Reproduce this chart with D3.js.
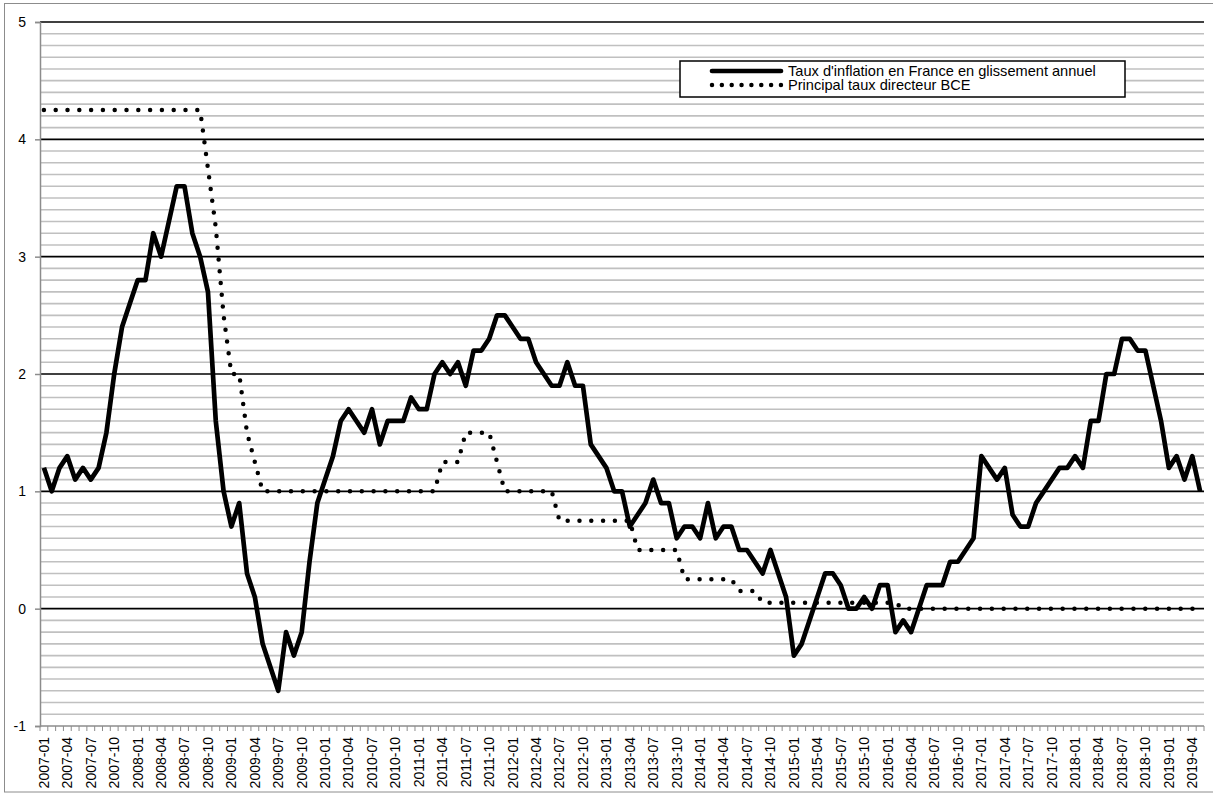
<!DOCTYPE html>
<html>
<head>
<meta charset="utf-8">
<script src="https://cdn.jsdelivr.net/npm/d3@7/dist/d3.min.js"></script>
<style>
  body { margin: 0; background: #fff; }
  svg text { font-family: "Liberation Sans", Arial, sans-serif; fill: #000; }
</style>
</head>
<body>
<svg id="chart" width="1213" height="794"></svg>
<script>
// months 2007-01 .. 2019-05
var months = d3.timeMonth.range(new Date(2007, 0, 1), new Date(2019, 5, 1)).map(d3.timeFormat("%Y-%m"));

// Taux d'inflation en France en glissement annuel (%)
var inflation = [
    1.2, 1.0, 1.2, 1.3, 1.1, 1.2, 1.1, 1.2, 1.5, 2.0, 2.4, 2.6,        // 2007
    2.8, 2.8, 3.2, 3.0, 3.3, 3.6, 3.6, 3.2, 3.0, 2.7, 1.6, 1.0,        // 2008
    0.7, 0.9, 0.3, 0.1, -0.3, -0.5, -0.7, -0.2, -0.4, -0.2, 0.4, 0.9,  // 2009
    1.1, 1.3, 1.6, 1.7, 1.6, 1.5, 1.7, 1.4, 1.6, 1.6, 1.6, 1.8,        // 2010
    1.7, 1.7, 2.0, 2.1, 2.0, 2.1, 1.9, 2.2, 2.2, 2.3, 2.5, 2.5,        // 2011
    2.4, 2.3, 2.3, 2.1, 2.0, 1.9, 1.9, 2.1, 1.9, 1.9, 1.4, 1.3,        // 2012
    1.2, 1.0, 1.0, 0.7, 0.8, 0.9, 1.1, 0.9, 0.9, 0.6, 0.7, 0.7,        // 2013
    0.6, 0.9, 0.6, 0.7, 0.7, 0.5, 0.5, 0.4, 0.3, 0.5, 0.3, 0.1,        // 2014
    -0.4, -0.3, -0.1, 0.1, 0.3, 0.3, 0.2, 0.0, 0.0, 0.1, 0.0, 0.2,     // 2015
    0.2, -0.2, -0.1, -0.2, 0.0, 0.2, 0.2, 0.2, 0.4, 0.4, 0.5, 0.6,     // 2016
    1.3, 1.2, 1.1, 1.2, 0.8, 0.7, 0.7, 0.9, 1.0, 1.1, 1.2, 1.2,        // 2017
    1.3, 1.2, 1.6, 1.6, 2.0, 2.0, 2.3, 2.3, 2.2, 2.2, 1.9, 1.6,        // 2018
    1.2, 1.3, 1.1, 1.3, 1.0                                            // 2019
];

// Principal taux directeur BCE (%)
var bce = [
    4.25, 4.25, 4.25, 4.25, 4.25, 4.25, 4.25, 4.25, 4.25, 4.25, 4.25, 4.25,  // 2007
    4.25, 4.25, 4.25, 4.25, 4.25, 4.25, 4.25, 4.25, 4.25, 3.75, 3.25, 2.5,   // 2008
    2.0, 2.0, 1.5, 1.25, 1.0, 1.0, 1.0, 1.0, 1.0, 1.0, 1.0, 1.0,            // 2009
    1.0, 1.0, 1.0, 1.0, 1.0, 1.0, 1.0, 1.0, 1.0, 1.0, 1.0, 1.0,             // 2010
    1.0, 1.0, 1.0, 1.25, 1.25, 1.25, 1.5, 1.5, 1.5, 1.5, 1.25, 1.0,         // 2011
    1.0, 1.0, 1.0, 1.0, 1.0, 1.0, 0.75, 0.75, 0.75, 0.75, 0.75, 0.75,      // 2012
    0.75, 0.75, 0.75, 0.75, 0.5, 0.5, 0.5, 0.5, 0.5, 0.5, 0.25, 0.25,      // 2013
    0.25, 0.25, 0.25, 0.25, 0.25, 0.15, 0.15, 0.15, 0.05, 0.05, 0.05, 0.05, // 2014
    0.05, 0.05, 0.05, 0.05, 0.05, 0.05, 0.05, 0.05, 0.05, 0.05, 0.05, 0.05, // 2015
    0.05, 0.05, 0, 0, 0, 0, 0, 0, 0, 0, 0, 0,                              // 2016
    0, 0, 0, 0, 0, 0, 0, 0, 0, 0, 0, 0,                                    // 2017
    0, 0, 0, 0, 0, 0, 0, 0, 0, 0, 0, 0,                                    // 2018
    0, 0, 0, 0, 0                                                          // 2019
];

var yTicks = [-1, 0, 1, 2, 3, 4, 5];
var seriesNames = ["Taux d'inflation en France en glissement annuel", "Principal taux directeur BCE"];

var svg = d3.select("#chart");

var plotLeft = 40, plotRight = 1204, plotTop = 22, plotBottom = 726;

// chart area border
svg.append("rect")
    .attr("x", 4.5).attr("y", 3.5)
    .attr("width", 1230).attr("height", 788.5)
    .attr("fill", "white")
    .attr("stroke", "#8c8c8c")
    .attr("stroke-width", 1);

var x = d3.scaleBand()
    .domain(months)
    .range([plotLeft, plotRight])
    .padding(0);

var y = d3.scaleLinear()
    .domain([-1, 5])
    .range([plotBottom, plotTop]);

var cx = d => x(d) + x.bandwidth() / 2;

// minor gridlines every 0.1
var minor = d3.range(-9, 50).map(v => v / 10).filter(v => Math.abs(v - Math.round(v)) > 1e-6);
svg.append("g").selectAll("line")
    .data(minor)
    .join("line")
    .attr("x1", plotLeft).attr("x2", plotRight)
    .attr("y1", d => y(d)).attr("y2", d => y(d))
    .attr("stroke", "#c0c0c0")
    .attr("stroke-width", 1.6);

// major gridlines
svg.append("g").selectAll("line")
    .data(yTicks.filter(v => v > -1))
    .join("line")
    .attr("x1", plotLeft).attr("x2", plotRight)
    .attr("y1", d => y(d)).attr("y2", d => y(d))
    .attr("stroke", "#000")
    .attr("stroke-width", 1.6);

// y axis
var yAxis = svg.append("g")
    .attr("transform", `translate(${plotLeft},0)`)
    .call(d3.axisLeft(y).tickValues(yTicks).tickSize(5).tickFormat(d => String(d)));
yAxis.select(".domain").attr("stroke", "#8c8c8c").attr("stroke-width", 1.5);
yAxis.selectAll(".tick line").attr("stroke", "#8c8c8c").attr("stroke-width", 1.5);
yAxis.selectAll(".tick text")
    .attr("x", -14)
    .style("font-size", "14px")
    .style("font-family", "Liberation Sans, Arial, sans-serif");

// x axis: tick at every category boundary
var xAxis = svg.append("g")
    .attr("transform", `translate(0,${plotBottom})`);
xAxis.append("line")
    .attr("x1", plotLeft).attr("x2", plotRight)
    .attr("stroke", "#8c8c8c").attr("stroke-width", 1.5);
xAxis.selectAll("line.tk")
    .data(months.concat(["end"]))
    .join("line")
    .attr("class", "tk")
    .attr("x1", (d, i) => plotLeft + i * x.bandwidth())
    .attr("x2", (d, i) => plotLeft + i * x.bandwidth())
    .attr("y1", 0).attr("y2", 5)
    .attr("stroke", "#8c8c8c").attr("stroke-width", 1);
xAxis.selectAll("text")
    .data(months.filter((d, i) => i % 3 === 0))
    .join("text")
    .attr("transform", d => `translate(${cx(d)},11) rotate(-90)`)
    .attr("text-anchor", "end")
    .attr("dy", "0.35em")
    .style("font-size", "14px")
    .text(d => d);

// series lines
var line = d3.line()
    .x((d, i) => cx(months[i]))
    .y(d => y(d));

svg.append("path")
    .datum(bce)
    .attr("d", line)
    .attr("fill", "none")
    .attr("stroke", "#000")
    .attr("stroke-width", 4.5)
    .attr("stroke-linecap", "round")
    .attr("stroke-dasharray", "0 11.8");

svg.append("path")
    .datum(inflation)
    .attr("d", line)
    .attr("fill", "none")
    .attr("stroke", "#000")
    .attr("stroke-width", 4.7)
    .attr("stroke-linejoin", "round");

// legend
var legend = svg.append("g");
legend.append("rect")
    .attr("x", 680).attr("y", 61)
    .attr("width", 445).attr("height", 36)
    .attr("fill", "white")
    .attr("stroke", "#000")
    .attr("stroke-width", 1.5);

var rows = legend.selectAll("g.row")
    .data(seriesNames)
    .join("g")
    .attr("class", "row")
    .attr("transform", (d, i) => `translate(0,${71 + i * 14})`);

rows.append("line")
    .attr("x1", 712).attr("x2", 781)
    .attr("stroke", "#000")
    .attr("stroke-linecap", "round")
    .attr("stroke-width", (d, i) => i === 0 ? 4.7 : 4.5)
    .attr("stroke-dasharray", (d, i) => i === 0 ? null : "0 9.85");

rows.append("text")
    .attr("x", 788)
    .attr("dy", "0.35em")
    .style("font-size", "14.6px")
    .text(d => d);
</script>
</body>
</html>
